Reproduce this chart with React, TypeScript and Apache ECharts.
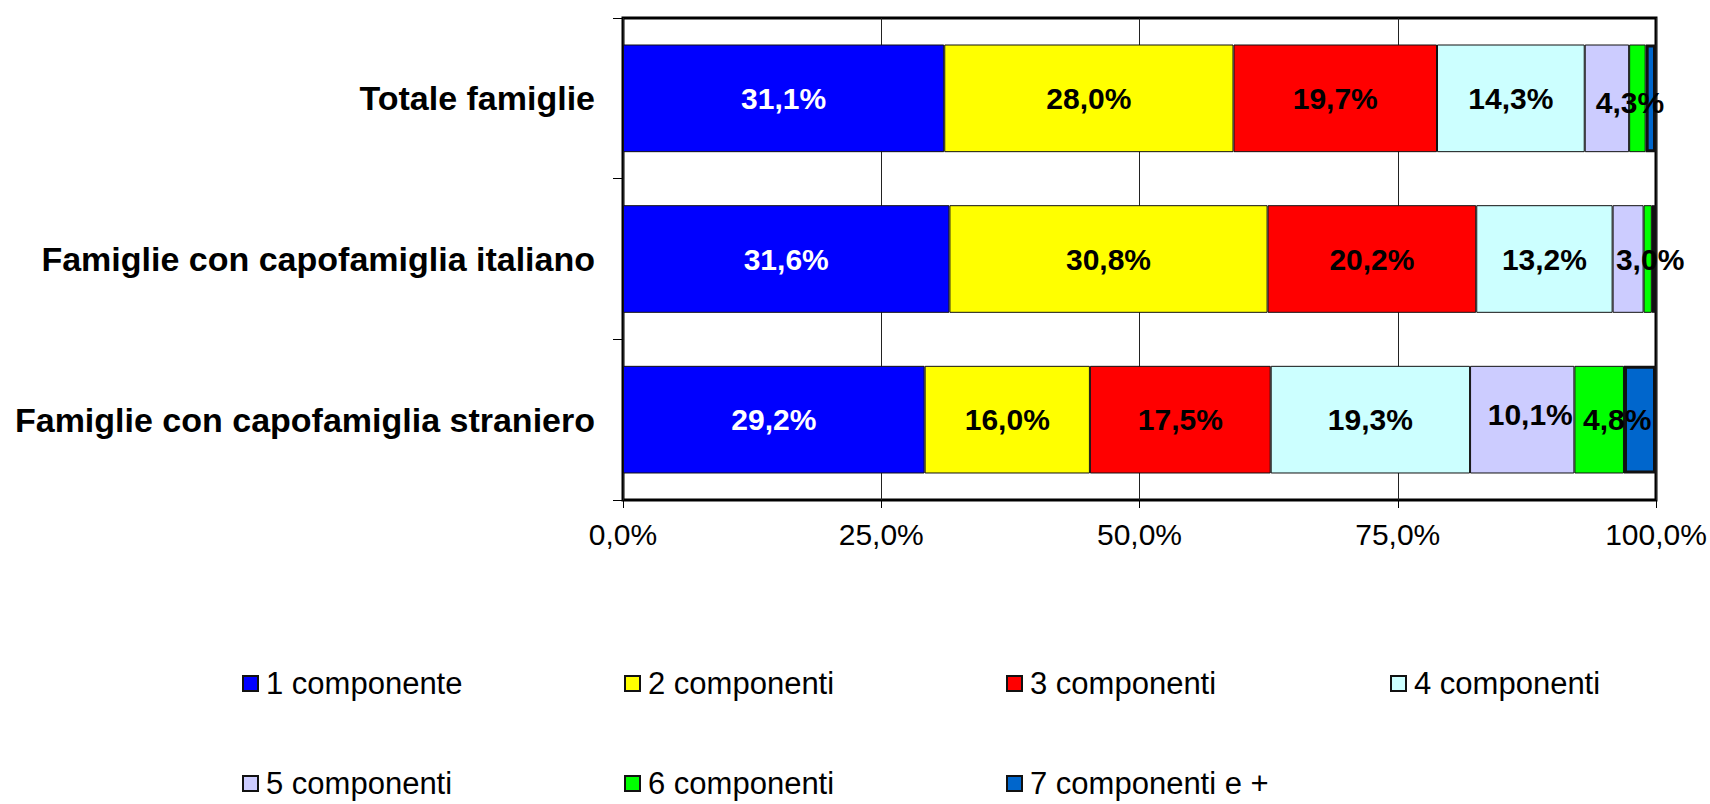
import React, { useEffect, useRef } from "react";
import * as echarts from "echarts";

const categories = [
  "Totale famiglie",
  "Famiglie con capofamiglia italiano",
  "Famiglie con capofamiglia straniero",
];

const seriesNames = [
  "1 componente",
  "2 componenti",
  "3 componenti",
  "4 componenti",
  "5 componenti",
  "6 componenti",
  "7 componenti e +",
];

const comp1 = [31.1, 31.6, 29.2];
const comp2 = [28.0, 30.8, 16.0];
const comp3 = [19.7, 20.2, 17.5];
const comp4 = [14.3, 13.2, 19.3];
const comp5 = [4.3, 3.0, 10.1];
const comp6 = [1.6, 0.8, 4.8];
const comp7 = [1.0, 0.4, 3.1];

const xTicks = [0, 25, 50, 75, 100];

const seriesValues = [comp1, comp2, comp3, comp4, comp5, comp6, comp7];

// styles
const colors = ["#0000FF", "#FFFF00", "#FF0000", "#CCFFFF", "#CCCCFF", "#00FF00", "#0066CC"];
const labelColors = ["#FFFFFF", "#000", "#000", "#000", "#000", "#000", "#000"];
const labelOffsets: Record<string, number[]> = {
  "4-0": [23, 4],
  "4-1": [22, 0],
  "4-2": [8, -5],
  "5-2": [18, 0],
};
const legendPos = [
  [242, 683],
  [624, 683],
  [1006, 683],
  [1390, 683],
  [242, 783],
  [624, 783],
  [1006, 783],
];

const FONT = "'Liberation Sans', Arial, Helvetica, sans-serif";
const fmt = (v: number) => v.toFixed(1).replace(".", ",") + "%";

export default function App() {
  const ref = useRef<HTMLDivElement>(null);
  useEffect(() => {
    document.body.style.margin = "0";
    const chart = echarts.init(ref.current!, null, { renderer: "svg" });
    const series = seriesValues.map((vals, si) => ({
      name: seriesNames[si],
      type: "bar",
      stack: "total",
      barCategoryGap: "33%",
      itemStyle: {
        color: colors[si],
        borderColor: "#111",
        borderWidth: si === 6 ? 3 : 1,
      },
      label: {
        show: si !== 6,
        position: "inside",
        color: labelColors[si],
        fontFamily: FONT,
        fontWeight: "bold",
        fontSize: 30,
        formatter: (p: any) => fmt(p.value),
      },
      data: vals.map((v, ri) => {
        const off = labelOffsets[`${si}-${ri}`];
        const item: any = { value: v };
        if (si === 6 || v < 2) item.label = { show: false };
        else if (off) item.label = { offset: off };
        return item;
      }),
    }));
    const legends = seriesNames.map((n, i) => ({
      show: true,
      data: [n],
      left: legendPos[i][0],
      top: legendPos[i][1] - 15,
      padding: 0,
      itemWidth: 15,
      itemHeight: 15,
      icon: "rect",
      selectedMode: false,
      textStyle: {
        fontFamily: FONT,
        fontSize: 31,
        color: "#000",
        lineHeight: 30,
        padding: [0, 0, 0, 3],
      },
    }));
    chart.setOption({
      animation: false,
      backgroundColor: "#fff",
      grid: {
        left: 623,
        right: 54,
        top: 18,
        bottom: 304,
        show: true,
        borderColor: "#000",
        borderWidth: 3,
        containLabel: false,
      },
      legend: legends,
      xAxis: {
        type: "value",
        min: xTicks[0],
        max: xTicks[xTicks.length - 1],
        interval: xTicks[1] - xTicks[0],
        axisLine: { show: false },
        axisTick: { show: true, length: 8, lineStyle: { color: "#000", width: 1 } },
        splitLine: { show: true, lineStyle: { color: "#222", width: 1 } },
        axisLabel: {
          margin: 19,
          fontFamily: FONT,
          fontSize: 30,
          color: "#000",
          formatter: (v: number) => fmt(v),
        },
      },
      yAxis: {
        type: "category",
        inverse: true,
        data: categories,
        axisLine: { show: false },
        axisTick: { show: true, length: 10, lineStyle: { color: "#000", width: 1 } },
        axisLabel: {
          margin: 28,
          fontFamily: FONT,
          fontSize: 34,
          fontWeight: "bold",
          color: "#000",
        },
      },
      series,
    });
    return () => chart.dispose();
  }, []);
  return (
    <div
      ref={ref}
      style={{ position: "absolute", left: 0, top: 0, width: 1710, height: 804 }}
    />
  );
}
